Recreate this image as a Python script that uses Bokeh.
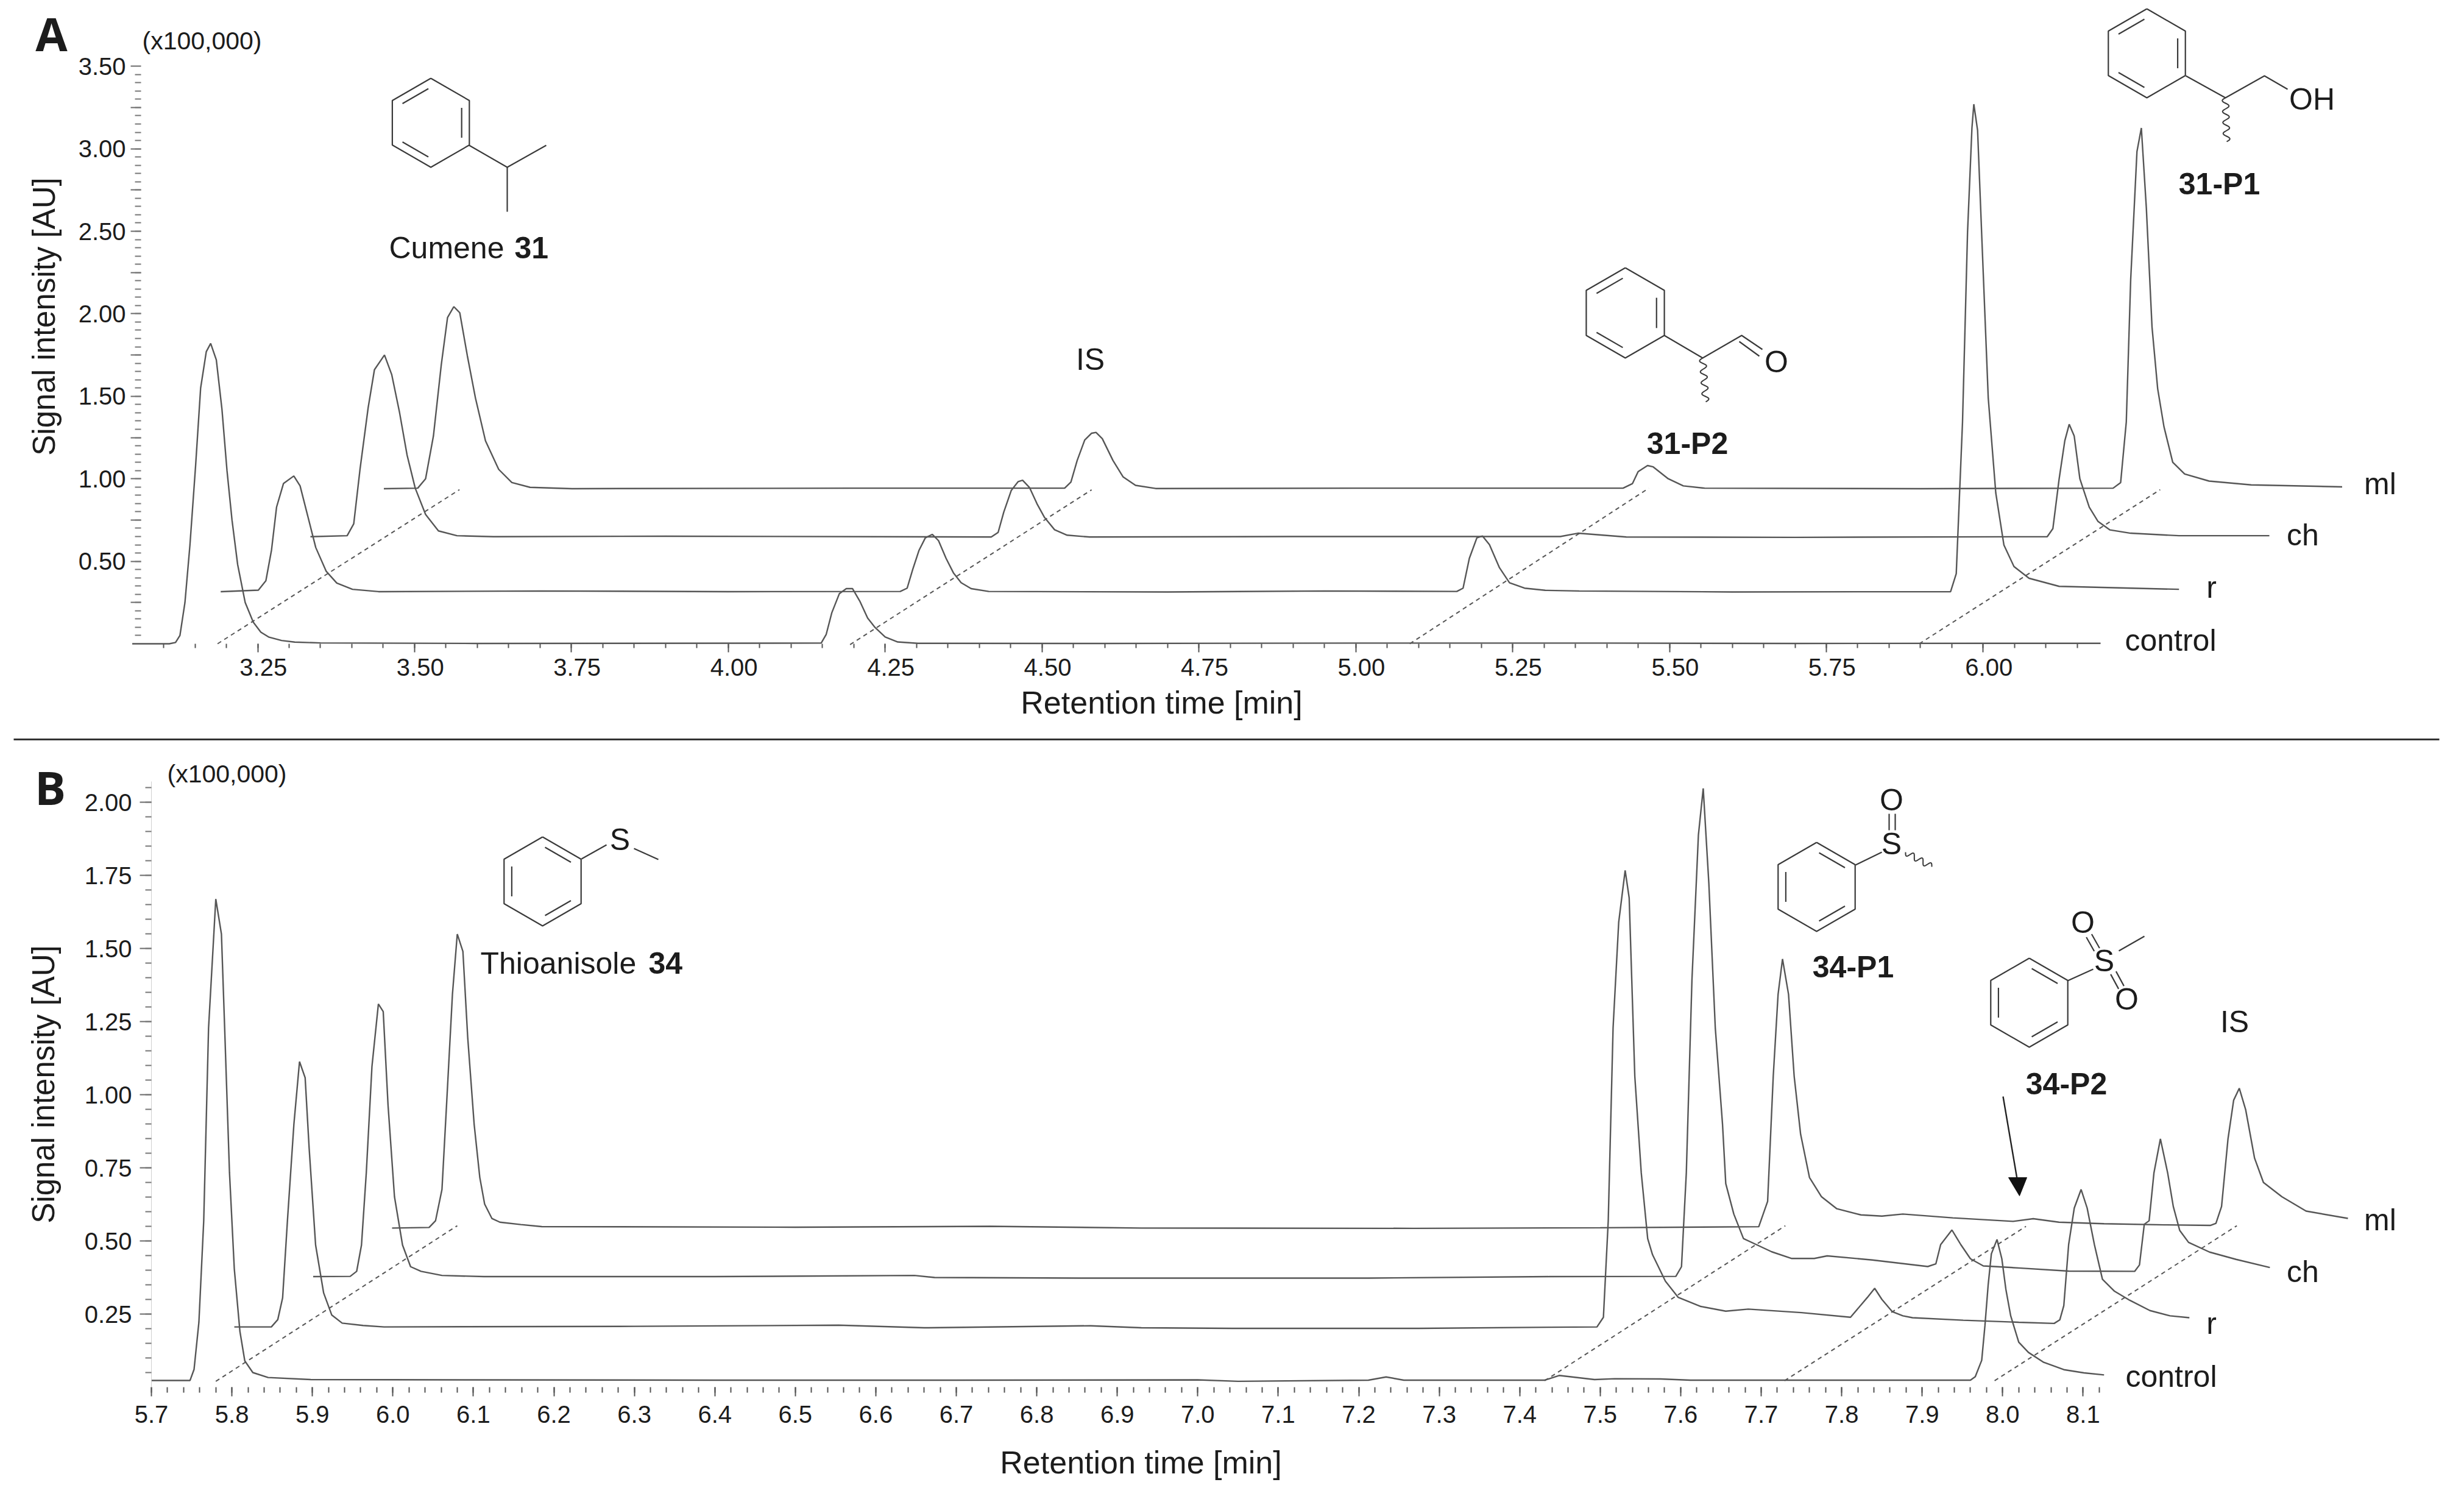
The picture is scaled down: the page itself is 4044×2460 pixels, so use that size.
import math
from bokeh.core.properties import value
from bokeh.embed import file_html
from bokeh.layouts import column
from bokeh.models import FixedTicker, LinearAxis, NumeralTickFormatter, Range1d
from bokeh.plotting import figure
from bokeh.resources import INLINE

# ---------------- data: retention time [min], signal [x100,000 AU]
A_CONTROL_T = [3.05,3.109,3.119,3.126,3.134,3.142,3.151,3.159,3.168,3.175,3.184,3.193,3.201,3.209,3.218,3.23,3.243,3.255,3.268,3.288,3.309,3.35,3.6,4.148,4.156,4.165,4.177,4.188,4.198,4.21,4.222,4.234,4.25,4.27,4.302,4.6,5.0,5.4,5.7,6.0,6.187]
A_CONTROL_V = [0.0,0.0,0.008,0.05,0.25,0.6,1.08,1.55,1.77,1.82,1.72,1.42,1.05,0.75,0.48,0.25,0.13,0.07,0.04,0.02,0.01,0.005,0.002,0.004,0.057,0.189,0.304,0.334,0.334,0.255,0.156,0.098,0.041,0.011,0.003,0.002,0.004,0.004,0.002,0.003,0.003]
A_R_T = [3.191,3.251,3.263,3.272,3.28,3.291,3.3075,3.3175,3.33,3.3425,3.359,3.376,3.401,3.4425,3.7,4.0,4.274,4.285,4.294,4.304,4.314,4.325,4.335,4.347,4.359,4.371,4.387,4.415,4.7,4.95,5.161,5.171,5.181,5.193,5.202,5.213,5.229,5.245,5.269,5.302,5.356,5.6,5.948,5.957,5.967,5.975,5.982,5.985,5.991,5.998,6.008,6.02,6.033,6.049,6.073,6.121,6.312]
A_R_V = [0.316,0.325,0.382,0.569,0.828,0.971,1.017,0.957,0.77,0.583,0.44,0.368,0.33,0.316,0.32,0.316,0.317,0.337,0.452,0.567,0.642,0.663,0.625,0.518,0.428,0.37,0.334,0.317,0.314,0.32,0.317,0.337,0.518,0.642,0.653,0.601,0.461,0.37,0.337,0.324,0.32,0.314,0.316,0.425,1.345,2.494,3.126,3.27,3.112,2.437,1.489,0.914,0.598,0.468,0.397,0.348,0.33]
A_CH_T = [3.334,3.3925,3.403,3.413,3.426,3.436,3.452,3.4635,3.476,3.488,3.501,3.5175,3.538,3.5675,3.626,3.9,4.419,4.43,4.439,4.451,4.462,4.469,4.48,4.492,4.504,4.52,4.54,4.576,4.9,5.326,5.354,5.431,5.7,6.102,6.111,6.121,6.13,6.137,6.145,6.154,6.169,6.183,6.202,6.235,6.312,6.456]
A_CH_V = [0.649,0.655,0.727,1.057,1.431,1.661,1.75,1.632,1.402,1.144,0.943,0.784,0.684,0.655,0.649,0.652,0.647,0.675,0.798,0.93,0.983,0.991,0.947,0.848,0.765,0.691,0.658,0.647,0.65,0.65,0.67,0.647,0.645,0.649,0.698,1.0,1.23,1.33,1.259,1.0,0.828,0.741,0.69,0.67,0.655,0.655]
A_ML_T = [3.451,3.505,3.5175,3.53,3.5425,3.5525,3.5625,3.572,3.584,3.597,3.613,3.634,3.655,3.684,3.751,4.2,4.536,4.546,4.556,4.568,4.579,4.586,4.596,4.613,4.629,4.649,4.681,5.0,5.426,5.441,5.45,5.465,5.474,5.498,5.522,5.556,5.9,6.207,6.219,6.228,6.235,6.245,6.252,6.26,6.269,6.278,6.288,6.302,6.321,6.36,6.427,6.572]
A_ML_V = [0.94,0.943,1.0,1.259,1.69,1.977,2.043,2.006,1.747,1.489,1.23,1.057,0.977,0.948,0.94,0.943,0.943,0.98,1.111,1.235,1.276,1.281,1.243,1.111,1.012,0.96,0.941,0.943,0.943,0.971,1.043,1.08,1.072,1.0,0.957,0.943,0.94,0.943,0.977,1.345,2.207,2.983,3.126,2.638,1.92,1.546,1.316,1.1,1.029,0.986,0.963,0.951]

B_CONTROL_T = [5.7,5.748,5.753,5.759,5.765,5.771,5.78,5.787,5.791,5.797,5.803,5.81,5.816,5.826,5.845,5.898,6.1,6.4,6.7,7.0,7.05,7.212,7.234,7.256,7.431,7.449,7.493,7.518,7.575,7.612,7.96,7.966,7.974,7.978,7.982,7.986,7.993,7.999,8.004,8.01,8.02,8.032,8.051,8.076,8.101,8.126]
B_CONTROL_V = [0.023,0.023,0.061,0.222,0.569,1.228,1.669,1.549,1.228,0.734,0.404,0.19,0.09,0.05,0.033,0.026,0.025,0.024,0.024,0.025,0.02,0.024,0.035,0.024,0.024,0.04,0.026,0.029,0.028,0.024,0.024,0.036,0.092,0.21,0.349,0.456,0.505,0.439,0.335,0.244,0.154,0.119,0.085,0.06,0.049,0.042]
B_R_T = [5.803,5.849,5.857,5.863,5.869,5.877,5.884,5.891,5.896,5.904,5.914,5.924,5.937,5.963,5.989,6.3,6.554,6.66,6.867,6.93,7.043,7.275,7.437,7.496,7.504,7.51,7.516,7.523,7.531,7.536,7.543,7.551,7.559,7.565,7.581,7.597,7.625,7.656,7.684,7.75,7.811,7.832,7.841,7.85,7.863,7.876,7.888,7.951,8.02,8.064,8.071,8.076,8.082,8.089,8.0975,8.105,8.114,8.124,8.139,8.158,8.183,8.208,8.232]
B_R_V = [0.206,0.206,0.231,0.305,0.569,0.898,1.113,1.058,0.816,0.486,0.322,0.247,0.219,0.211,0.206,0.208,0.212,0.203,0.21,0.203,0.201,0.201,0.205,0.206,0.239,0.569,1.228,1.59,1.767,1.673,1.063,0.733,0.508,0.453,0.3625,0.307,0.276,0.26,0.267,0.255,0.239,0.307,0.338,0.3,0.258,0.244,0.2375,0.229,0.222,0.218,0.23,0.279,0.4875,0.6125,0.676,0.6125,0.4875,0.369,0.328,0.297,0.262,0.244,0.2375]
B_CH_T = [5.901,5.947,5.955,5.961,5.967,5.974,5.982,5.988,5.994,6.002,6.012,6.022,6.035,6.061,6.113,6.4,6.648,6.673,6.855,7.212,7.437,7.594,7.601,7.607,7.614,7.622,7.628,7.635,7.643,7.652,7.656,7.666,7.678,7.694,7.713,7.738,7.766,7.782,7.838,7.907,7.917,7.923,7.937,7.948,7.96,7.976,8.02,8.082,8.164,8.17,8.176,8.182,8.188,8.196,8.205,8.212,8.22,8.231,8.257,8.29,8.332]
B_CH_V = [0.378,0.379,0.396,0.486,0.734,1.096,1.31,1.284,0.964,0.651,0.486,0.412,0.396,0.382,0.378,0.378,0.382,0.375,0.373,0.373,0.378,0.379,0.412,0.733,1.393,1.887,2.047,1.722,1.228,0.898,0.696,0.592,0.508,0.4875,0.463,0.44,0.44,0.449,0.435,0.4125,0.4215,0.4875,0.5375,0.4875,0.439,0.4146,0.4076,0.397,0.396,0.418,0.557,0.569,0.733,0.849,0.733,0.618,0.536,0.495,0.462,0.437,0.409]
B_ML_T = [5.999,6.045,6.053,6.061,6.067,6.074,6.08,6.087,6.093,6.101,6.108,6.114,6.123,6.133,6.159,6.185,6.5,6.742,6.93,7.268,7.5,7.697,7.708,7.715,7.721,7.7265,7.734,7.741,7.749,7.76,7.775,7.794,7.824,7.85,7.876,7.938,8.013,8.038,8.07,8.126,8.201,8.258,8.265,8.272,8.28,8.287,8.294,8.302,8.313,8.324,8.347,8.377,8.429]
B_ML_V = [0.544,0.546,0.569,0.676,0.981,1.343,1.549,1.49,1.195,0.898,0.717,0.626,0.577,0.564,0.556,0.549,0.547,0.55,0.544,0.543,0.545,0.5486,0.635,1.063,1.343,1.464,1.343,1.063,0.865,0.717,0.651,0.61,0.589,0.585,0.592,0.579,0.567,0.576,0.564,0.559,0.555,0.553,0.56,0.618,0.849,0.981,1.022,0.948,0.783,0.7,0.651,0.602,0.577]

A_GUIDES = [(3.186,0.0,3.5715,0.934),(4.194,-0.005,4.579,0.933),(5.086,0.0,5.467,0.943),(5.898,0.0,6.282,0.934)]
B_GUIDES = [(5.78,0.02,6.08,0.552),(7.431,0.022,7.73,0.552),(7.729,0.022,8.029,0.55),(7.99,0.022,8.291,0.552)]

A_X_MAJOR = [3.25,3.5,3.75,4.0,4.25,4.5,4.75,5.0,5.25,5.5,5.75,6.0]
A_Y_LABELLED = [0.5,1.0,1.5,2.0,2.5,3.0,3.5]
B_X_MAJOR = [round(5.7+0.1*i,1) for i in range(25)]
B_Y_MAJOR = [0.25,0.5,0.75,1.0,1.25,1.5,1.75,2.0]
TRACE_NAMES = ["control","r","ch","ml"]

# ---------------- styling / geometry
FONT = value("Liberation Sans")
INK = "#1c1c1c"
TRACE = "#565656"
W = 4028
H1, H2 = 1216, 1228
TOP2 = 8 + H1

A_PX, A_T0 = 1029.8, 430.5   # px/min, pixel of 3.25
A_PY, A_Y0 = 270.8, 1064.0   # px/unit, pixel of 0
B_PX, B_T0 = 1321.0, 256.0   # px/min, pixel of 5.7
B_PY, B_Y0 = 480.0, 2284.0

ax = lambda px: 3.25 + (px - A_T0) / A_PX
ay = lambda py: (A_Y0 - py) / A_PY
bx = lambda px: 5.7 + (px - B_T0) / B_PX
by = lambda py: (B_Y0 - py) / B_PY


def make_fig(height, fx, fy, top, bottom):
    p = figure(width=W, height=height, output_backend="svg", toolbar_location=None,
               x_axis_type=None, y_axis_type=None,
               x_range=Range1d(fx(8), fx(8 + W)), y_range=Range1d(fy(bottom), fy(top)),
               min_border=0, min_border_left=0, min_border_right=0, min_border_top=0, min_border_bottom=0,
               outline_line_color=None)
    p.grid.visible = False
    return p


p1 = make_fig(H1, ax, ay, 8, 8 + H1)
p2 = make_fig(H2, bx, by, TOP2, TOP2 + H2)


def texts(p, fx, fy, px, py, s, size, bold=False, align="center", font=FONT, angle=0.0):
    p.text([fx(px)], [fy(py)], text=[s], text_font=font, text_font_size=f"{size}px",
           text_font_style="bold" if bold else "normal", text_color=INK,
           text_align=align, text_baseline="middle", angle=angle)


def polyline(p, fx, fy, pts, width=2.2, color="#3a3a3a"):
    p.line([fx(a) for a, _ in pts], [fy(b) for _, b in pts], line_color=color, line_width=width)


def ring(p, fx, fy, cx, cy, R, kind):
    v = [(cx + R * math.cos(math.radians(a)), cy - R * math.sin(math.radians(a))) for a in (90, 30, -30, -90, -150, 150)]
    polyline(p, fx, fy, v + [v[0]])
    pairs = [(5, 0), (1, 2), (3, 4)] if kind == "A" else [(0, 1), (2, 3), (4, 5)]
    for i, j in pairs:
        a, b = v[i], v[j]
        s = 0.80
        ia = (cx + (a[0] - cx) * s, cy + (a[1] - cy) * s)
        ib = (cx + (b[0] - cx) * s, cy + (b[1] - cy) * s)
        # shorten a little along the bond
        q = [(ia[0] + (ib[0] - ia[0]) * 0.08, ia[1] + (ib[1] - ia[1]) * 0.08),
             (ib[0] + (ia[0] - ib[0]) * 0.08, ib[1] + (ia[1] - ib[1]) * 0.08)]
        polyline(p, fx, fy, q)


def wavy(p, fx, fy, a, b, waves=4, amp=5.5):
    L = math.hypot(b[0] - a[0], b[1] - a[1])
    ux, uy = (b[0] - a[0]) / L, (b[1] - a[1]) / L
    pts = []
    n = 48
    for i in range(n + 1):
        f = i / n
        off = amp * math.sin(f * waves * 2 * math.pi)
        pts.append((a[0] + ux * f * L - uy * off, a[1] + uy * f * L + ux * off))
    polyline(p, fx, fy, pts, width=2.0)


def dbl(p, fx, fy, a, b, gap=5.0):
    L = math.hypot(b[0] - a[0], b[1] - a[1])
    nx, ny = -(b[1] - a[1]) / L * gap, (b[0] - a[0]) / L * gap
    polyline(p, fx, fy, [(a[0] + nx, a[1] + ny), (b[0] + nx, b[1] + ny)])
    polyline(p, fx, fy, [(a[0] - nx, a[1] - ny), (b[0] - nx, b[1] - ny)])


def axes(p, fx, fy, xloc_px, yloc_val, xmaj, xmin, ymaj, ymin, yover, xtick, xminor, ytick, yminor, ystand, xstand, xlabel_shift, yline, ybounds):
    y = LinearAxis(ticker=FixedTicker(ticks=ymaj, minor_ticks=ymin), fixed_location=fx(xloc_px),
                   major_tick_out=ytick, major_tick_in=0, minor_tick_out=yminor, minor_tick_in=0,
                   major_tick_line_color="#6a6a6a", minor_tick_line_color="#777777",
                   major_tick_line_width=2, minor_tick_line_width=2,
                   axis_line_color=yline, bounds=ybounds,
                   major_label_text_font="Liberation Sans", major_label_text_font_size="40px",
                   major_label_text_color=INK, major_label_standoff=ystand,
                   formatter=NumeralTickFormatter(format="0.00"), major_label_overrides=yover)
    p.add_layout(y, "left")
    if xlabel_shift:
        x = LinearAxis(ticker=FixedTicker(ticks=xmaj, minor_ticks=xmin), fixed_location=yloc_val,
                       major_tick_out=xtick, major_tick_in=0, minor_tick_out=xminor, minor_tick_in=0,
                       major_tick_line_color="#555555", minor_tick_line_color="#555555",
                       major_tick_line_width=2, minor_tick_line_width=2, axis_line_color=None,
                       major_label_overrides={t: "" for t in xmaj})
        p.add_layout(x, "below")
        shifted = [round(t + xlabel_shift, 3) for t in xmaj]
        lab = LinearAxis(ticker=FixedTicker(ticks=shifted), fixed_location=yloc_val,
                         major_tick_out=xtick, major_tick_in=0, major_tick_line_color=None,
                         minor_tick_line_color=None, axis_line_color=None,
                         major_label_text_font="Liberation Sans", major_label_text_font_size="40px",
                         major_label_text_color=INK, major_label_standoff=xstand,
                         major_label_overrides={s: f"{t:.2f}" for s, t in zip(shifted, xmaj)})
        p.add_layout(lab, "below")
    else:
        x = LinearAxis(ticker=FixedTicker(ticks=xmaj, minor_ticks=xmin), fixed_location=yloc_val,
                       major_tick_out=xtick, major_tick_in=0, minor_tick_out=xminor, minor_tick_in=0,
                       major_tick_line_color="#555555", minor_tick_line_color="#555555",
                       major_tick_line_width=2, minor_tick_line_width=2, axis_line_color=None,
                       major_label_text_font="Liberation Sans", major_label_text_font_size="40px",
                       major_label_text_color=INK, major_label_standoff=xstand,
                       major_label_overrides={t: f"{t:.1f}" for t in xmaj})
        p.add_layout(x, "below")


# ---- axes panel A
a_ymaj = [round(0.25 * i, 2) for i in range(1, 15)]
a_ymin = [round(0.05 * i, 2) for i in range(1, 70)]
a_xmin = [round(3.1 + 0.05 * i, 2) for i in range(62)]
axes(p1, ax, ay, 239, 0.0, A_X_MAJOR, a_xmin, a_ymaj, a_ymin,
     {t: "" for t in a_ymaj if t not in A_Y_LABELLED}, 14, 7, 17, 10, 8, 10, 0.009, None, "auto")

# ---- axes panel B
b_xmin = [round(5.7 + 0.02 * i, 2) for i in range(122)]
b_ymin = [round(0.05 * i, 2) for i in range(1, 42)]
axes(p2, bx, by, 256, 0.0, B_X_MAJOR, b_xmin, B_Y_MAJOR, b_ymin, {}, 15, 9, 19, 10, 13, 15, 0, "#cfcfcf", (0.0, 2.07))

# ---- traces
for t, v in [(A_CONTROL_T, A_CONTROL_V), (A_R_T, A_R_V), (A_CH_T, A_CH_V), (A_ML_T, A_ML_V)]:
    p1.line(t, v, line_color=TRACE, line_width=2.4)
for t, v in [(B_CONTROL_T, B_CONTROL_V), (B_R_T, B_R_V), (B_CH_T, B_CH_V), (B_ML_T, B_ML_V)]:
    p2.line(t, v, line_color=TRACE, line_width=2.4)
for x0, y0, x1, y1 in A_GUIDES:
    p1.line([x0, x1], [y0, y1], line_color="#555555", line_width=2, line_dash="7 6")
for x0, y0, x1, y1 in B_GUIDES:
    p2.line([x0, x1], [y0, y1], line_color="#555555", line_width=2, line_dash="7 6")

# ---- panel separator
polyline(p1, ax, ay, [(30, 1221), (4011, 1221)], width=3, color="#333333")

# ---- panel A texts
texts(p1, ax, ay, 92, 62, "A", 76, True, font=value("Open Sans"))
texts(p1, ax, ay, 241, 74, "(x100,000)", 41, align="left")
texts(p1, ax, ay, 80, 527, "Signal intensity [AU]", 51, angle=math.pi / 2)
texts(p1, ax, ay, 1914, 1160, "Retention time [min]", 52)
texts(p1, ax, ay, 646, 414, "Cumene", 50, align="left")
texts(p1, ax, ay, 852, 414, "31", 50, True, align="left")
texts(p1, ax, ay, 1797, 597, "IS", 50)
texts(p1, ax, ay, 2777, 735, "31-P2", 50, True)
texts(p1, ax, ay, 3650, 309, "31-P1", 50, True)
for name, (x, y) in zip(TRACE_NAMES, [(3570, 1058), (3637, 971), (3787, 885), (3914, 801)]):
    texts(p1, ax, ay, x, y, name, 50)

# ---- panel B texts
texts(p2, bx, by, 90, 1299, "B", 76, True, font=value("Open Sans"))
texts(p2, bx, by, 282, 1277, "(x100,000)", 41, align="left")
texts(p2, bx, by, 79, 1787, "Signal intensity [AU]", 51, angle=math.pi / 2)
texts(p2, bx, by, 1880, 2407, "Retention time [min]", 52)
texts(p2, bx, by, 796, 1588, "Thioanisole", 50, align="left")
texts(p2, bx, by, 1072, 1588, "34", 50, True, align="left")
texts(p2, bx, by, 3049, 1594, "34-P1", 50, True)
texts(p2, bx, by, 3399, 1786, "34-P2", 50, True)
texts(p2, bx, by, 3675, 1684, "IS", 50)
for name, (x, y) in zip(TRACE_NAMES, [(3571, 2266), (3637, 2179), (3787, 2094), (3914, 2009)]):
    texts(p2, bx, by, x, y, name, 50)

# ---- structures, panel A
ring(p1, ax, ay, 714.6, 209, 73, "A")
polyline(p1, ax, ay, [(777.5, 246), (840, 282), (904, 246)])
polyline(p1, ax, ay, [(840, 282), (840, 355)])

ring(p1, ax, ay, 2675, 521, 74, "A")
polyline(p1, ax, ay, [(2739, 558), (2802, 595), (2866, 558), (2900, 581)])
polyline(p1, ax, ay, [(2862, 568), (2895, 592)])
wavy(p1, ax, ay, (2802, 595), (2807, 667))
texts(p1, ax, ay, 2923, 601, "O", 50)

ring(p1, ax, ay, 3531, 95, 73, "A")
polyline(p1, ax, ay, [(3595, 132), (3660, 168), (3724, 132), (3762, 154)])
wavy(p1, ax, ay, (3660, 168), (3662, 240))
texts(p1, ax, ay, 3802, 170, "OH", 50)

# ---- structures, panel B
ring(p2, bx, by, 898, 1454, 73, "B")
polyline(p2, bx, by, [(962, 1417), (1003, 1394)])
polyline(p2, bx, by, [(1048, 1400), (1088, 1418)])
texts(p2, bx, by, 1025, 1385, "S", 50)

ring(p2, bx, by, 2989, 1463, 73, "B")
polyline(p2, bx, by, [(3053, 1427), (3096, 1406)])
dbl(p2, bx, by, (3113, 1343), (3113, 1370))
wavy(p2, bx, by, (3135, 1406), (3178, 1430), waves=3, amp=5)
texts(p2, bx, by, 3112, 1392, "S", 50)
texts(p2, bx, by, 3112, 1320, "O", 50)

ring(p2, bx, by, 3338, 1653, 73, "B")
polyline(p2, bx, by, [(3401, 1617), (3443, 1598)])
dbl(p2, bx, by, (3449, 1566), (3436, 1543))
dbl(p2, bx, by, (3476, 1604), (3489, 1628))
polyline(p2, bx, by, [(3485, 1568), (3527, 1544)])
texts(p2, bx, by, 3461, 1584, "S", 50)
texts(p2, bx, by, 3426, 1521, "O", 50)
texts(p2, bx, by, 3498, 1647, "O", 50)

# ---- arrow to 34-P2
polyline(p2, bx, by, [(3295, 1807), (3318, 1942)], width=2.4, color="#222222")
p2.patch([bx(a) for a in (3304, 3334, 3322)], [by(b) for b in (1940, 1940, 1970)], fill_color="#111111", line_color="#111111")

open("out.html", "w").write(file_html(column(p1, p2, spacing=0), INLINE))
